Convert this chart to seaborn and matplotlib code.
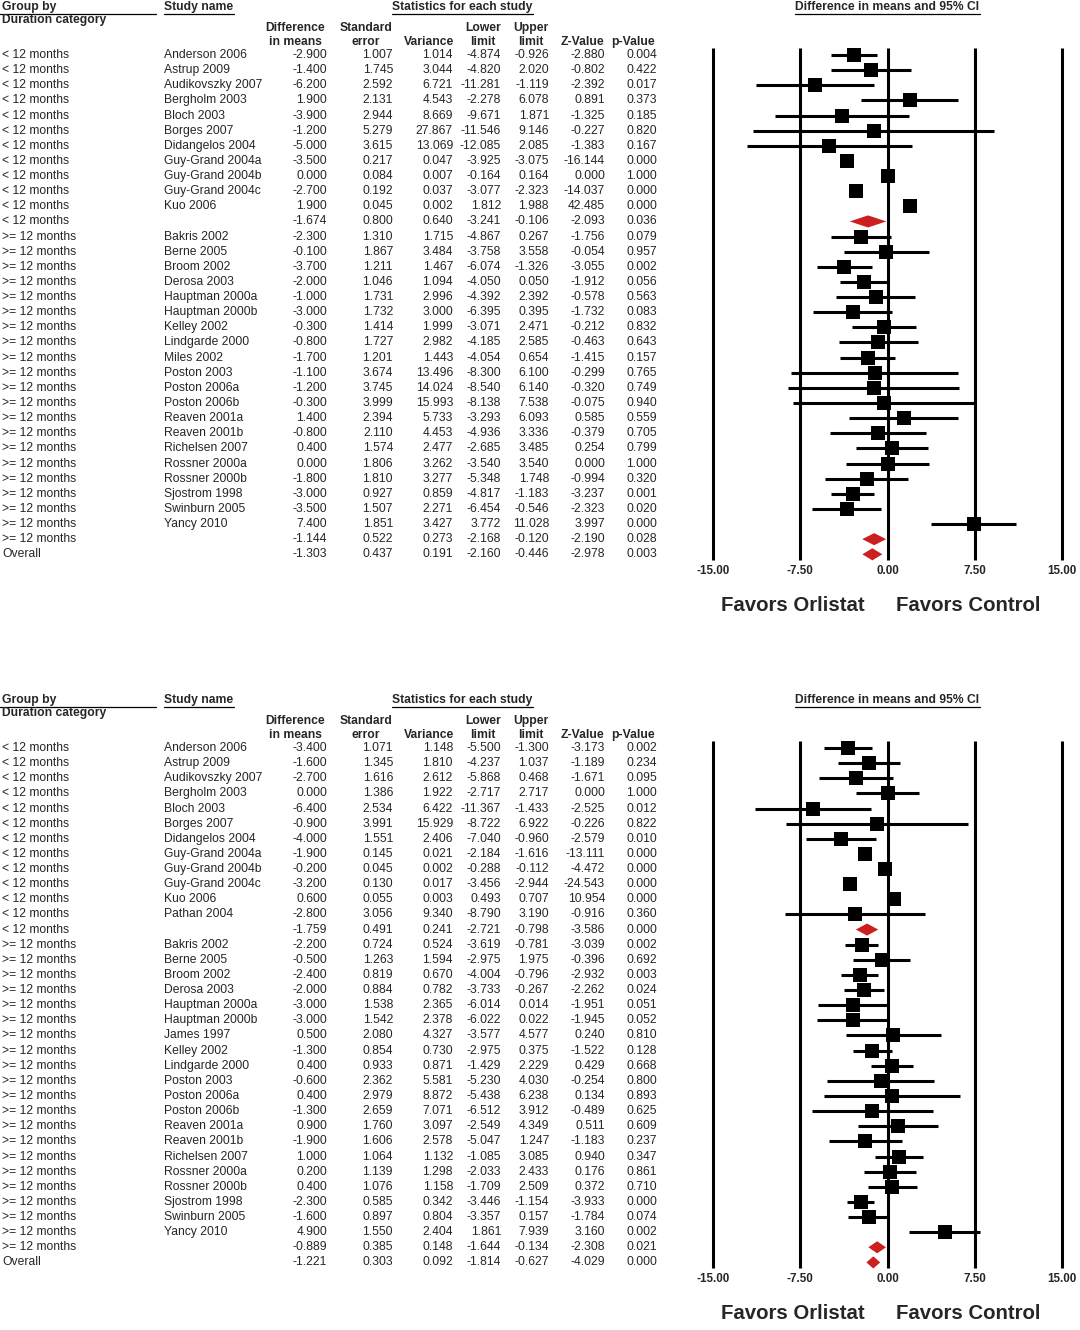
import numpy as np
import pandas as pd
import matplotlib
matplotlib.use('Agg')
import matplotlib.pyplot as plt
import seaborn as sns
from matplotlib.lines import Line2D

sns.set_style('white')
plt.rcParams['font.family'] = ['Liberation Sans', 'DejaVu Sans']

# --- data: panel 1 ---
groups1 = ['< 12 months'] * 12 + ['>= 12 months'] * 21 + ['Overall']
names1 = ['Anderson 2006', 'Astrup 2009', 'Audikovszky 2007', 'Bergholm 2003', 'Bloch 2003',
          'Borges 2007', 'Didangelos 2004', 'Guy-Grand 2004a', 'Guy-Grand 2004b', 'Guy-Grand 2004c',
          'Kuo 2006', '',
          'Bakris 2002', 'Berne 2005', 'Broom 2002', 'Derosa 2003', 'Hauptman 2000a', 'Hauptman 2000b',
          'Kelley 2002', 'Lindgarde 2000', 'Miles 2002', 'Poston 2003', 'Poston 2006a', 'Poston 2006b',
          'Reaven 2001a', 'Reaven 2001b', 'Richelsen 2007', 'Rossner 2000a', 'Rossner 2000b',
          'Sjostrom 1998', 'Swinburn 2005', 'Yancy 2010', '', '']
diff1 = [-2.900, -1.400, -6.200, 1.900, -3.900, -1.200, -5.000, -3.500, 0.000, -2.700, 1.900, -1.674,
         -2.300, -0.100, -3.700, -2.000, -1.000, -3.000, -0.300, -0.800, -1.700, -1.100, -1.200, -0.300,
         1.400, -0.800, 0.400, 0.000, -1.800, -3.000, -3.500, 7.400, -1.144, -1.303]
se1 = [1.007, 1.745, 2.592, 2.131, 2.944, 5.279, 3.615, 0.217, 0.084, 0.192, 0.045, 0.800,
       1.310, 1.867, 1.211, 1.046, 1.731, 1.732, 1.414, 1.727, 1.201, 3.674, 3.745, 3.999,
       2.394, 2.110, 1.574, 1.806, 1.810, 0.927, 1.507, 1.851, 0.522, 0.437]
var1 = [1.014, 3.044, 6.721, 4.543, 8.669, 27.867, 13.069, 0.047, 0.007, 0.037, 0.002, 0.640,
        1.715, 3.484, 1.467, 1.094, 2.996, 3.000, 1.999, 2.982, 1.443, 13.496, 14.024, 15.993,
        5.733, 4.453, 2.477, 3.262, 3.277, 0.859, 2.271, 3.427, 0.273, 0.191]
lower1 = [-4.874, -4.820, -11.281, -2.278, -9.671, -11.546, -12.085, -3.925, -0.164, -3.077, 1.812, -3.241,
          -4.867, -3.758, -6.074, -4.050, -4.392, -6.395, -3.071, -4.185, -4.054, -8.300, -8.540, -8.138,
          -3.293, -4.936, -2.685, -3.540, -5.348, -4.817, -6.454, 3.772, -2.168, -2.160]
upper1 = [-0.926, 2.020, -1.119, 6.078, 1.871, 9.146, 2.085, -3.075, 0.164, -2.323, 1.988, -0.106,
          0.267, 3.558, -1.326, 0.050, 2.392, 0.395, 2.471, 2.585, 0.654, 6.100, 6.140, 7.538,
          6.093, 3.336, 3.485, 3.540, 1.748, -1.183, -0.546, 11.028, -0.120, -0.446]
z1 = [-2.880, -0.802, -2.392, 0.891, -1.325, -0.227, -1.383, -16.144, 0.000, -14.037, 42.485, -2.093,
      -1.756, -0.054, -3.055, -1.912, -0.578, -1.732, -0.212, -0.463, -1.415, -0.299, -0.320, -0.075,
      0.585, -0.379, 0.254, 0.000, -0.994, -3.237, -2.323, 3.997, -2.190, -2.978]
p1 = [0.004, 0.422, 0.017, 0.373, 0.185, 0.820, 0.167, 0.000, 1.000, 0.000, 0.000, 0.036,
      0.079, 0.957, 0.002, 0.056, 0.563, 0.083, 0.832, 0.643, 0.157, 0.765, 0.749, 0.940,
      0.559, 0.705, 0.799, 1.000, 0.320, 0.001, 0.020, 0.000, 0.028, 0.003]

# --- data: panel 2 ---
groups2 = ['< 12 months'] * 13 + ['>= 12 months'] * 21 + ['Overall']
names2 = ['Anderson 2006', 'Astrup 2009', 'Audikovszky 2007', 'Bergholm 2003', 'Bloch 2003',
          'Borges 2007', 'Didangelos 2004', 'Guy-Grand 2004a', 'Guy-Grand 2004b', 'Guy-Grand 2004c',
          'Kuo 2006', 'Pathan 2004', '',
          'Bakris 2002', 'Berne 2005', 'Broom 2002', 'Derosa 2003', 'Hauptman 2000a', 'Hauptman 2000b',
          'James 1997', 'Kelley 2002', 'Lindgarde 2000', 'Poston 2003', 'Poston 2006a', 'Poston 2006b',
          'Reaven 2001a', 'Reaven 2001b', 'Richelsen 2007', 'Rossner 2000a', 'Rossner 2000b',
          'Sjostrom 1998', 'Swinburn 2005', 'Yancy 2010', '', '']
diff2 = [-3.400, -1.600, -2.700, 0.000, -6.400, -0.900, -4.000, -1.900, -0.200, -3.200, 0.600, -2.800, -1.759,
         -2.200, -0.500, -2.400, -2.000, -3.000, -3.000, 0.500, -1.300, 0.400, -0.600, 0.400, -1.300,
         0.900, -1.900, 1.000, 0.200, 0.400, -2.300, -1.600, 4.900, -0.889, -1.221]
se2 = [1.071, 1.345, 1.616, 1.386, 2.534, 3.991, 1.551, 0.145, 0.045, 0.130, 0.055, 3.056, 0.491,
       0.724, 1.263, 0.819, 0.884, 1.538, 1.542, 2.080, 0.854, 0.933, 2.362, 2.979, 2.659,
       1.760, 1.606, 1.064, 1.139, 1.076, 0.585, 0.897, 1.550, 0.385, 0.303]
var2 = [1.148, 1.810, 2.612, 1.922, 6.422, 15.929, 2.406, 0.021, 0.002, 0.017, 0.003, 9.340, 0.241,
        0.524, 1.594, 0.670, 0.782, 2.365, 2.378, 4.327, 0.730, 0.871, 5.581, 8.872, 7.071,
        3.097, 2.578, 1.132, 1.298, 1.158, 0.342, 0.804, 2.404, 0.148, 0.092]
lower2 = [-5.500, -4.237, -5.868, -2.717, -11.367, -8.722, -7.040, -2.184, -0.288, -3.456, 0.493, -8.790, -2.721,
          -3.619, -2.975, -4.004, -3.733, -6.014, -6.022, -3.577, -2.975, -1.429, -5.230, -5.438, -6.512,
          -2.549, -5.047, -1.085, -2.033, -1.709, -3.446, -3.357, 1.861, -1.644, -1.814]
upper2 = [-1.300, 1.037, 0.468, 2.717, -1.433, 6.922, -0.960, -1.616, -0.112, -2.944, 0.707, 3.190, -0.798,
          -0.781, 1.975, -0.796, -0.267, 0.014, 0.022, 4.577, 0.375, 2.229, 4.030, 6.238, 3.912,
          4.349, 1.247, 3.085, 2.433, 2.509, -1.154, 0.157, 7.939, -0.134, -0.627]
z2 = [-3.173, -1.189, -1.671, 0.000, -2.525, -0.226, -2.579, -13.111, -4.472, -24.543, 10.954, -0.916, -3.586,
      -3.039, -0.396, -2.932, -2.262, -1.951, -1.945, 0.240, -1.522, 0.429, -0.254, 0.134, -0.489,
      0.511, -1.183, 0.940, 0.176, 0.372, -3.933, -1.784, 3.160, -2.308, -4.029]
p2 = [0.002, 0.234, 0.095, 1.000, 0.012, 0.822, 0.010, 0.000, 0.000, 0.000, 0.000, 0.360, 0.000,
      0.002, 0.692, 0.003, 0.024, 0.051, 0.052, 0.810, 0.128, 0.668, 0.800, 0.893, 0.625,
      0.609, 0.237, 0.347, 0.861, 0.710, 0.000, 0.074, 0.002, 0.021, 0.000]

x_ticks = [-15, -7.5, 0, 7.5, 15]
x_tick_labels = ['-15.00', '-7.50', '0.00', '7.50', '15.00']

# --- layout ---
W, H = 1080, 1330
ROW_H = 15.13
FS = 8.7
RED = '#cc1f1f'

fig = plt.figure(figsize=(W / 100, H / 100), dpi=100)


def fx(px):
    return px / W


def fy(py):
    return 1 - py / H


def uline(x0, x1, y):
    fig.add_artist(Line2D([fx(x0), fx(x1)], [fy(y), fy(y)], color='black', lw=0.9))


num_right = [327, 393, 453, 501, 549, 605, 657]
col_heads = [(295, ['Difference', 'in means']), (366, ['Standard', 'error']), (429, ['Variance']),
             (483, ['Lower', 'limit']), (531, ['Upper', 'limit']), (582, ['Z-Value']), (633, ['p-Value'])]


def draw_panel(top, groups, names, diff, se, var, lo, hi, z, p):
    n = len(names)
    r0 = top + 55
    y_top = r0 - 17
    y_bot = r0 + (n - 1) * ROW_H + 8
    ylim = ((y_bot - r0) / ROW_H, (y_top - r0) / ROW_H)
    h = (y_bot - y_top) / H

    # headers
    fig.text(fx(2), fy(top + 7), 'Group by', fontsize=FS, fontweight='bold', va='center')
    uline(0, 156, top + 14)
    fig.text(fx(2), fy(top + 20), 'Duration category', fontsize=FS, fontweight='bold', va='center')
    fig.text(fx(164), fy(top + 7), 'Study name', fontsize=FS, fontweight='bold', va='center')
    uline(164, 234, top + 14)
    fig.text(fx(462), fy(top + 7), 'Statistics for each study', fontsize=FS, fontweight='bold',
             va='center', ha='center')
    uline(392, 533, top + 14)
    fig.text(fx(887), fy(top + 7), 'Difference in means and 95% CI', fontsize=FS, fontweight='bold',
             va='center', ha='center')
    uline(795, 980, top + 14)
    for cx, lines in col_heads:
        ys = [top + 28, top + 42] if len(lines) == 2 else [top + 42]
        for txt, yy in zip(lines, ys):
            fig.text(fx(cx), fy(yy), txt, fontsize=FS, fontweight='bold', va='center', ha='center')

    # table
    ax_t = fig.add_axes([0, fy(y_bot), fx(690), h])
    ax_t.set_xlim(0, 690)
    ax_t.set_ylim(*ylim)
    ax_t.axis('off')
    cols = [diff, se, var, lo, hi, z, p]
    for i in range(n):
        ax_t.text(2, i, groups[i], fontsize=FS, va='center', ha='left')
        ax_t.text(164, i, names[i], fontsize=FS, va='center', ha='left')
        for xr, col in zip(num_right, cols):
            ax_t.text(xr, i, f'{col[i]:.3f}', fontsize=FS, va='center', ha='right')

    # forest
    df = pd.DataFrame({'study': names, 'diff': diff, 'lo': lo, 'hi': hi, 'row': np.arange(n)})
    studies = df[df['study'] != '']
    summ = df[df['study'] == '']

    ax_f = fig.add_axes([fx(700), fy(y_bot), fx(375), h])
    ax_f.vlines(x_ticks, -0.46, n - 1 + 0.4, color='black', lw=2.2, zorder=1)
    ax_f.hlines(studies['row'], studies['lo'], studies['hi'], color='black', lw=2.2, zorder=2)
    sns.scatterplot(data=studies, x='diff', y='row', marker='s', s=95, color='black',
                    linewidth=0, ax=ax_f, zorder=3, legend=False)
    for _, r in summ.iterrows():
        ax_f.fill([r['lo'], r['diff'], r['hi'], r['diff']],
                  [r['row'], r['row'] - 0.4, r['row'], r['row'] + 0.4],
                  color=RED, lw=0, zorder=3)
    ax_f.set_xlim(-16.118, 16.118)
    ax_f.set_ylim(*ylim)
    ax_f.set_xticks(x_ticks)
    ax_f.set_xticklabels(x_tick_labels, fontsize=8.4, fontweight='bold')
    ax_f.tick_params(axis='x', length=0, pad=2)
    ax_f.set_yticks([])
    ax_f.set_xlabel('')
    ax_f.set_ylabel('')
    for sp in ax_f.spines.values():
        sp.set_visible(False)

    fig.text(fx(793), fy(r0 + (n - 1) * ROW_H + 51), 'Favors Orlistat', fontsize=14.7,
             fontweight='bold', ha='center', va='center')
    fig.text(fx(968), fy(r0 + (n - 1) * ROW_H + 51), 'Favors Control', fontsize=14.7,
             fontweight='bold', ha='center', va='center')


draw_panel(0, groups1, names1, diff1, se1, var1, lower1, upper1, z1, p1)
draw_panel(693, groups2, names2, diff2, se2, var2, lower2, upper2, z2, p2)

fig.savefig('out.png', dpi=100, facecolor='white')
